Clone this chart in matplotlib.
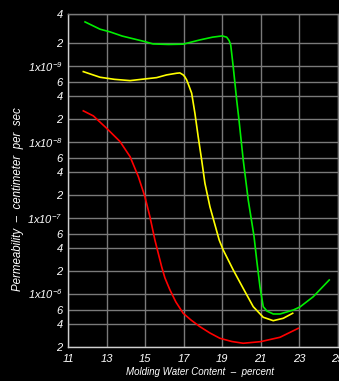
"""Permeability vs molding water content, three compaction curves on a log axis."""
import matplotlib
matplotlib.use("Agg")
import matplotlib.pyplot as plt

# values (y in axis units: 1e3 -> "1x10^-9", 1e0 -> "1x10^-6")
GREEN_X = [11.87, 12.65, 13.17, 13.8, 14.98, 15.40, 16.2, 16.97, 17.84, 18.5, 19.0, 19.23,
           19.36, 19.44, 19.49, 19.57, 19.66, 19.75, 19.87, 20.09, 20.35, 20.65, 20.79,
           20.96, 21.13, 21.32, 21.65, 22.0, 22.69, 23.04, 23.73, 24.56]
GREEN_Y = [3760, 3015, 2780, 2450, 2070, 1930, 1900, 1916, 2180, 2370, 2460, 2370,
           2133, 1871, 1456, 970, 586, 353, 193, 57.4, 17.1, 5.7, 2.77,
           1.23, 0.673, 0.59, 0.539, 0.539, 0.608, 0.667, 0.91, 1.51]

YELLOW_X = [11.78, 12.65, 13.4, 14.21, 14.98, 15.59, 16.11, 16.63, 16.80, 16.97, 17.06,
            17.15, 17.27, 17.41, 17.58, 17.75, 17.93, 18.10, 18.36, 18.84, 19.05, 19.57,
            20.09, 20.61, 21.13, 21.65, 22.17, 22.66]
YELLOW_Y = [834, 703, 660, 635, 668, 695, 755, 794, 802, 755, 710,
            649, 541, 434, 236, 116, 57.4, 28.3, 13.9, 5.08, 3.75, 2.05,
            1.17, 0.673, 0.488, 0.440, 0.473, 0.551]

RED_X = [11.78, 12.30, 12.99, 13.69, 14.21, 14.64, 14.98, 15.24, 15.50, 15.85, 16.02,
         16.28, 16.59, 16.97, 17.37, 17.84, 18.36, 18.88, 19.50, 20.09, 20.99, 22.0, 22.95]
RED_Y = [254, 218, 150, 100, 63.4, 34.6, 18.9, 10.3, 5.08, 2.26, 1.61,
         1.12, 0.776, 0.551, 0.45, 0.367, 0.303, 0.258, 0.234, 0.222, 0.233, 0.266, 0.349]

XTICKS = [11, 13, 15, 17, 19, 21, 23, 25]
YTICKS = [0.2, 0.4, 0.6, 1, 2, 4, 6, 10, 20, 40, 60, 100, 200, 400, 600, 1000, 2000, 4780]
YTICK_LABELS = ["2", "4", "6", "1x10$^{-6}$", "2", "4", "6", "1x10$^{-7}$", "2", "4", "6",
                "1x10$^{-8}$", "2", "4", "6", "1x10$^{-9}$", "2", "4"]

GRID = "#7a7a7a"
plt.rcParams["font.family"] = ["Liberation Sans", "DejaVu Sans"]
plt.rcParams["mathtext.fontset"] = "custom"
plt.rcParams["mathtext.it"] = "Liberation Sans:italic"
plt.rcParams["mathtext.rm"] = "Liberation Sans:italic"
plt.rcParams["mathtext.default"] = "it"


def main() -> None:
    fig = plt.figure(figsize=(3.39, 3.81), dpi=100, facecolor="black")
    ax = fig.add_axes([68.3 / 339, 34.3 / 381, 269.4 / 339, 332.7 / 381], facecolor="black")

    ax.set_yscale("log")
    ax.set_xlim(11, 25)
    ax.set_ylim(0.2, 4780)

    ax.plot(GREEN_X, GREEN_Y, color="#00ee00", lw=1.2, zorder=3)
    ax.plot(YELLOW_X, YELLOW_Y, color="#ffff00", lw=1.2, zorder=3)
    ax.plot(RED_X, RED_Y, color="#ff0000", lw=1.2, zorder=3)

    ax.set_xticks(XTICKS, [str(v) for v in XTICKS])
    ax.set_yticks(YTICKS, YTICK_LABELS)
    ax.minorticks_off()
    ax.tick_params(length=0, colors="white", labelsize=8)
    ax.tick_params(axis="y", pad=4)
    ax.tick_params(axis="x", pad=5)
    for lab in ax.get_xticklabels() + ax.get_yticklabels():
        lab.set_fontstyle("italic")

    ax.grid(True, color=GRID, lw=1.0)
    for side in ("top", "right"):
        ax.spines[side].set_color(GRID)
    for side in ("left", "bottom"):
        ax.spines[side].set_color("#d0d0d0")
    for s in ax.spines.values():
        s.set_linewidth(1.0)

    fig.text(200 / 339, 1 - 372 / 381, "Molding Water Content  \u2013  percent", color="white",
             fontsize=7, style="italic", ha="center", va="center")
    fig.text(18 / 339, 1 - 199 / 381, "Permeability  \u2013  centimeter  per  sec", color="white",
             fontsize=8.3, style="italic", ha="center", va="center", rotation=90)

    fig.savefig("out.png", dpi=100, facecolor="black")
    plt.close(fig)


if __name__ == "__main__":
    main()
